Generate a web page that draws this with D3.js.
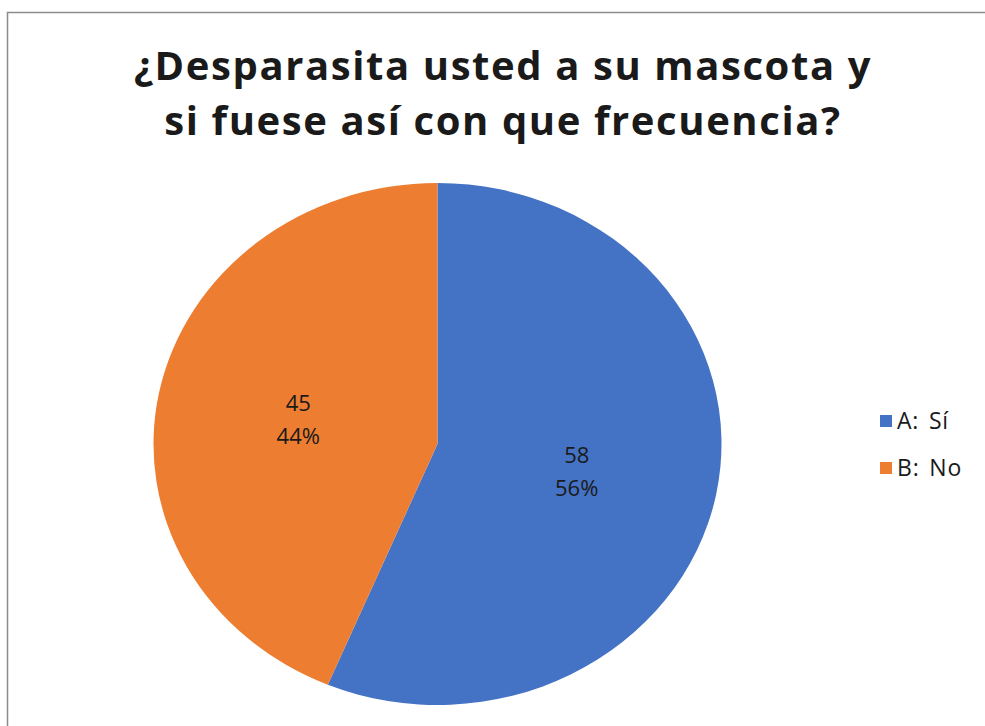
<!DOCTYPE html>
<html>
<head>
<meta charset="utf-8">
<script src="https://cdn.jsdelivr.net/npm/d3@7"></script>
<style>
  body { margin: 0; background: #fff; }
  svg { display: block; }
</style>
</head>
<body>
<svg id="chart"></svg>
<script>
// data
var categories = ["A: Sí", "B: No"];
var values = [58, 45];
var percents = ["56%", "44%"];
var colors = ["#4472C4", "#ED7D31"];
var titleLines = ["¿Desparasita usted a su mascota y", "si fuese así con que frecuencia?"];

var width = 985, height = 726;

var svg = d3.select("#chart")
    .attr("width", width)
    .attr("height", height);

// chart frame (only left + top visible in the crop)
svg.append("path")
    .attr("d", "M7.5," + height + " V12.5 H" + width)
    .attr("fill", "none")
    .attr("stroke", "#8c8c8c")
    .attr("stroke-width", 1.5);

// title
svg.append("g").selectAll("text")
    .data(titleLines)
    .enter().append("text")
    .attr("x", 503)
    .attr("y", function(d, i) { return 80 + i * 55; })
    .attr("text-anchor", "middle")
    .style("font-family", "'Open Sans', sans-serif")
    .style("font-weight", "bold")
    .style("font-size", "40px")
    .style("letter-spacing", "1.6px")
    .attr("fill", "#1a1a1a")
    .text(function(d) { return d; });

// pie (slightly squashed vertically like the picture)
var cx = 437.5, cy = 444, rx = 284, ry = 261;

var pie = d3.pie().sort(null).value(function(d) { return d; });
var arc = d3.arc().innerRadius(0).outerRadius(rx);
var labelArc = d3.arc().innerRadius(rx * 0.5).outerRadius(rx * 0.5);

var g = svg.append("g")
    .attr("transform", "translate(" + cx + "," + cy + ") scale(1," + (ry / rx) + ")");

var arcs = pie(values);

g.selectAll("path")
    .data(arcs)
    .enter().append("path")
    .attr("d", arc)
    .attr("fill", function(d, i) { return colors[i]; });

// labels (drawn outside the scaled group so text isn't squashed)
var labels = svg.append("g");
arcs.forEach(function(d, i) {
    var c = labelArc.centroid(d);
    var x = cx + c[0], y = cy + c[1] * ry / rx;
    var t = labels.append("text")
        .attr("x", x)
        .attr("text-anchor", "middle")
        .style("font-family", "'Open Sans', sans-serif")
        .style("font-size", "22px")
        .attr("fill", "#1a1a1a");
    t.append("tspan").attr("x", x).attr("y", y - 7).text(values[i]);
    t.append("tspan").attr("x", x).attr("y", y + 26).text(percents[i]);
});

// legend
var legend = svg.append("g").selectAll("g")
    .data(categories)
    .enter().append("g")
    .attr("transform", function(d, i) { return "translate(880," + (415 + i * 47) + ")"; });

legend.append("rect")
    .attr("width", 12)
    .attr("height", 12)
    .attr("fill", function(d, i) { return colors[i]; });

legend.append("text")
    .attr("x", 17)
    .attr("y", 14)
    .style("font-family", "'Open Sans', sans-serif")
    .style("font-size", "23px")
    .style("letter-spacing", "0.8px")
    .style("word-spacing", "3px")
    .attr("fill", "#1a1a1a")
    .text(function(d) { return d; });
</script>
</body>
</html>
